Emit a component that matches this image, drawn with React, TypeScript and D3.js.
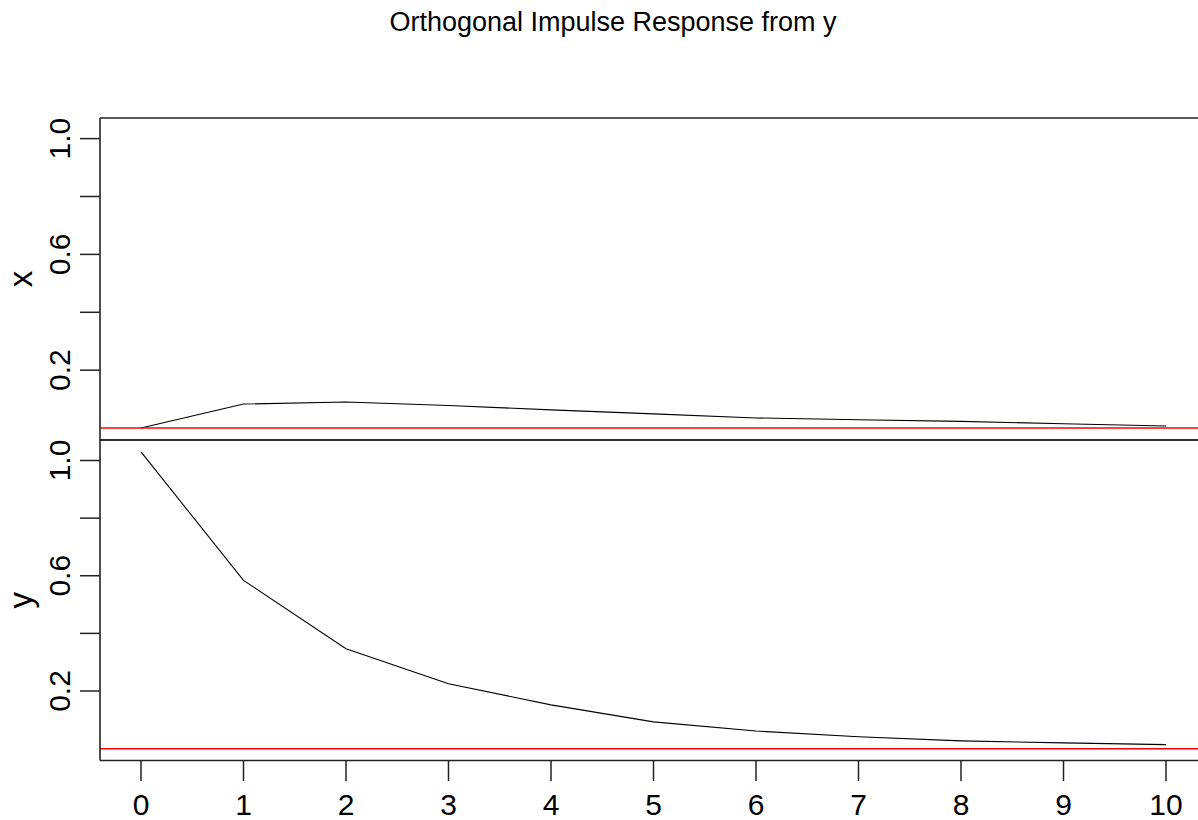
import React from 'react';
import { scaleLinear, line } from 'd3';

const width = 1198;
const height = 820;

const title = 'Orthogonal Impulse Response from y';

// response horizons
const steps = [0, 1, 2, 3, 4, 5, 6, 7, 8, 9, 10];

// response of x to a shock in y
const respX = [0, 0.083, 0.090, 0.078, 0.063, 0.049, 0.035, 0.029, 0.023, 0.015, 0.007];
// response of y to a shock in y
const respY = [1.03, 0.584, 0.347, 0.225, 0.152, 0.093, 0.061, 0.041, 0.027, 0.020, 0.014];

const yTicks = [0.2, 0.4, 0.6, 0.8, 1.0];
const yTickLabels = ['0.2', '', '0.6', '', '1.0'];
const xTicks = [0, 1, 2, 3, 4, 5, 6, 7, 8, 9, 10];

const panels = [
  { name: 'x', values: respX, top: 118, bottom: 440 },
  { name: 'y', values: respY, top: 440, bottom: 760.5 },
];

const font = '"Liberation Sans", Arial, sans-serif';

// R style 4% axis expansion
const all = [...respX, ...respY, 0];
const lo = Math.min(...all);
const hi = Math.max(...all);
const pad = (hi - lo) * 0.04;

const x = scaleLinear().domain([-0.4, 10.4]).range([100, 1207]);

const App = () => {
  return (
    <svg width={width} height={height} style={{ position: 'absolute', left: 0, top: 0, background: '#fff' }}>
      <text x={613} y={31} textAnchor="middle" fontFamily={font} fontSize={27} fill="#000">{title}</text>

      {panels.map((p, pi) => {
        const y = scaleLinear().domain([lo - pad, hi + pad]).range([p.bottom, p.top]);
        const path = line<number>()
          .x((d, i) => x(steps[i]))
          .y(d => y(d))(p.values);
        const mid = (p.top + p.bottom) / 2;
        return (
          <g key={pi}>
            <path d={path || ''} fill="none" stroke="#000" strokeWidth={1.1} />
            <line x1={100} x2={width} y1={y(0)} y2={y(0)} stroke="#ff0000" strokeWidth={1.5} />
            {yTicks.map((t, i) => (
              <g key={i}>
                <line x1={80} x2={100} y1={y(t)} y2={y(t)} stroke="#222" strokeWidth={1.5} />
                {yTickLabels[i] && (
                  <text transform={`translate(70,${y(t)}) rotate(-90)`} textAnchor="middle"
                    fontFamily={font} fontSize={30} fill="#000">{yTickLabels[i]}</text>
                )}
              </g>
            ))}
            <text transform={`translate(32,${mid}) rotate(-90)`} textAnchor="middle"
              fontFamily={font} fontSize={33} fill="#000">{p.name}</text>
            <line x1={100} x2={100} y1={p.top} y2={p.bottom} stroke="#222" strokeWidth={1.6} />
            <line x1={100} x2={width} y1={p.top} y2={p.top} stroke="#222" strokeWidth={1.6} />
            <line x1={100} x2={width} y1={p.bottom} y2={p.bottom} stroke="#222" strokeWidth={1.6} />
          </g>
        );
      })}

      {xTicks.map(t => (
        <g key={t}>
          <line x1={x(t)} x2={x(t)} y1={760.5} y2={781} stroke="#222" strokeWidth={1.5} />
          <text x={x(t)} y={815} textAnchor="middle" fontFamily={font} fontSize={30} fill="#000">{t}</text>
        </g>
      ))}
    </svg>
  );
};

export default App;
